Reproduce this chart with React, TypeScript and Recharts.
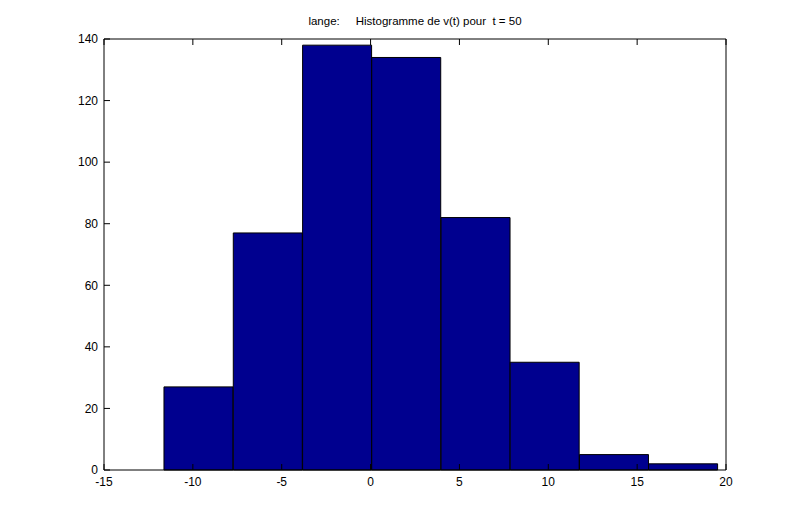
import React from "react";
import { ComposedChart, Bar, XAxis, YAxis } from "recharts";

// histogram bins (centres of the bars) and counts
const binCenters = [-9.68, -5.78, -1.88, 2.01, 5.91, 9.8, 13.7, 17.59];
const counts = [27, 77, 138, 134, 82, 35, 5, 2];

const xTicks = [-15, -10, -5, 0, 5, 10, 15, 20];
const yTicks = [0, 20, 40, 60, 80, 100, 120, 140];

const data = binCenters.map((c, i) => ({ center: c, count: counts[i] }));

const W = 793;
const H = 524;
const plot = { left: 104, top: 39, right: 726, bottom: 470 };
const plotWidth = plot.right - plot.left;

const font = "'Liberation Sans', Arial, sans-serif";
const TICK = 6;
const X_GAP = 7;
const Y_GAP = 6;

// MATLAB style: tick marks point into the box, labels outside
const BottomTick = (props: any) => {
    const { x, y, payload } = props;
    return (
        <g>
            <line x1={x} x2={x} y1={y - X_GAP} y2={y - X_GAP - TICK} stroke="#000" />
            <text x={x} y={y} dy="0.71em" textAnchor="middle" fontSize={12} fontFamily={font} fill="#000">
                {payload.value}
            </text>
        </g>
    );
};

const LeftTick = (props: any) => {
    const { x, y, payload } = props;
    return (
        <g>
            <line x1={x + Y_GAP} x2={x + Y_GAP + TICK} y1={y} y2={y} stroke="#000" />
            <text x={x} y={y} dy="0.355em" textAnchor="end" fontSize={12} fontFamily={font} fill="#000">
                {payload.value}
            </text>
        </g>
    );
};

const TopTick = (props: any) => {
    const { x, y } = props;
    return <line x1={x} x2={x} y1={y} y2={y + TICK} stroke="#000" />;
};

const RightTick = (props: any) => {
    const { x, y } = props;
    return <line x1={x} x2={x - TICK} y1={y} y2={y} stroke="#000" />;
};

export default function App() {
    return (
        <div style={{ position: "absolute", left: 0, top: 0, width: W, height: H, background: "#fff" }}>
            <div
                style={{
                    position: "absolute",
                    top: 15,
                    left: plot.left,
                    width: plotWidth,
                    textAlign: "center",
                    fontFamily: font,
                    fontSize: 11.5,
                    whiteSpace: "pre",
                    color: "#000",
                }}
            >
                {"lange:     Histogramme de v(t) pour  t = 50"}
            </div>
            <ComposedChart
                width={W}
                height={H}
                data={data}
                barCategoryGap={0}
                barGap={0}
                margin={{ top: plot.top - 1, left: plot.left - 40, right: W - plot.right - 10, bottom: H - plot.bottom - 30 }}
            >
                <XAxis
                    xAxisId="bottom"
                    dataKey="center"
                    type="number"
                    domain={[xTicks[0], xTicks[xTicks.length - 1]]}
                    ticks={xTicks}
                    allowDataOverflow
                    height={30}
                    tick={<BottomTick />}
                    tickLine={false}
                    tickSize={0}
                    tickMargin={X_GAP}
                    stroke="#000"
                    interval={0}
                />
                <XAxis
                    xAxisId="top"
                    orientation="top"
                    dataKey="center"
                    type="number"
                    domain={[xTicks[0], xTicks[xTicks.length - 1]]}
                    ticks={xTicks}
                    allowDataOverflow
                    height={1}
                    tick={<TopTick />}
                    tickLine={false}
                    tickSize={0}
                    tickMargin={0}
                    stroke="#000"
                    interval={0}
                />
                <YAxis
                    yAxisId="left"
                    type="number"
                    domain={[0, 140]}
                    ticks={yTicks}
                    width={40}
                    tick={<LeftTick />}
                    tickLine={false}
                    tickSize={0}
                    tickMargin={Y_GAP}
                    stroke="#000"
                    interval={0}
                />
                <YAxis
                    yAxisId="right"
                    orientation="right"
                    type="number"
                    domain={[0, 140]}
                    ticks={yTicks}
                    width={10}
                    tick={<RightTick />}
                    tickLine={false}
                    tickSize={0}
                    tickMargin={0}
                    stroke="#000"
                    interval={0}
                />
                <Bar
                    xAxisId="bottom"
                    yAxisId="left"
                    dataKey="count"
                    fill="#00008F"
                    stroke="#000"
                    strokeWidth={1}
                    isAnimationActive={false}
                />
            </ComposedChart>
        </div>
    );
}
